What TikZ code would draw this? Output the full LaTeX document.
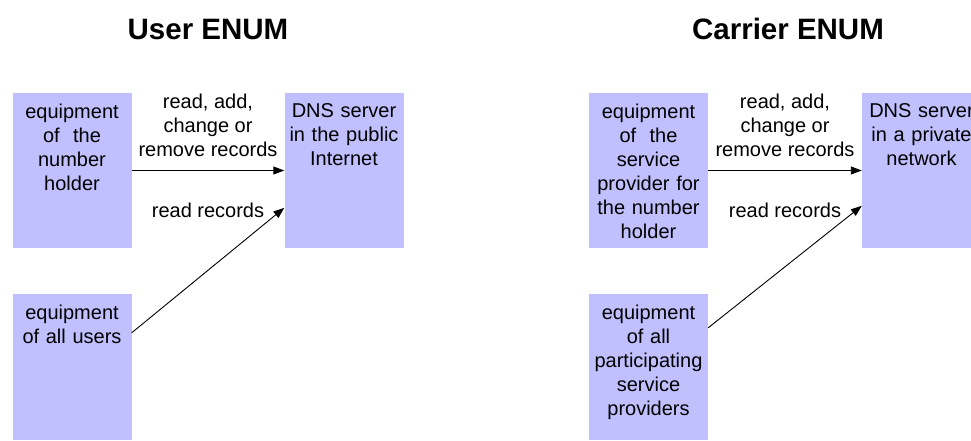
\documentclass[tikz,border=0pt]{standalone}
\usepackage{fontspec}
\setmainfont{Liberation Sans}
\usetikzlibrary{calc}
\usetikzlibrary{arrows.meta}
\usetikzlibrary{positioning}
\definecolor{lavender}{RGB}{192, 192, 255}

\tikzset{
  box/.style={fill=lavender, minimum width=119pt, inner sep=0pt},
  boxtext/.style={anchor=north, text width=119pt, align=center, inner sep=0pt,
                  font=\fontsize{20}{24}\selectfont},
  lbl/.style={align=center, inner sep=0pt, font=\fontsize{20}{24}\selectfont},
  heading/.style={inner sep=0pt, font=\fontsize{29.5}{34}\selectfont\bfseries},
  flow/.style={-{Triangle[length=11pt, width=8pt]}, line width=0.9pt}
}

\begin{document}
\begin{tikzpicture}[x=1pt, y=-1pt]
            \clip (0,0) rectangle (971,441);
            % user ENUM
            \node[heading] (usertitle) at (208, 29) {User ENUM};
            \node[box, minimum height=155pt] (holder) at ( 72, 170.5) {};
            \node[box, minimum height=146pt] (users)  at ( 72, 367.0) {};
            \node[box, minimum height=155pt] (dnspub) at (344, 170.5) {};
            \node[boxtext] (holdertxt) at ($(holder.north)+(0,11)$) {equipment\\of\ \ the\\number\\holder};
            \node[boxtext] (userstxt)  at ($(users.north)+(0,11)$)  {equipment\\of all users};
            \node[boxtext] (dnspubtxt) at ($(dnspub.north)+(0,11)$) {DNS server\\in the public\\Internet};
            \draw[flow] (holder.east) -- (dnspub.west)
                 node[lbl, midway, anchor=south, yshift=13pt] (pubwrite) {read, add,\\change or\\remove records};
            \draw[flow] ($(users.north east)+(0,39)$) -- ($(dnspub.north west)+(0,115)$);
            \node[lbl] (pubread) at ($(holder.east)!0.5!(dnspub.west)+(0,40)$) {read records};
            % carrier ENUM
            \node[heading] (carriertitle) at (788, 29) {Carrier ENUM};
            \node[box, minimum height=155pt] (provider) at (648.5, 170.5) {};
            \node[box, minimum height=146pt] (carriers) at (648.5, 367.0) {};
            \node[box, minimum height=155pt] (dnspriv)  at (921.5, 170.5) {};
            \node[boxtext] (providertxt) at ($(provider.north)+(0,11)$) {equipment\\of\ \ the\\service\\provider for\\the number\\holder};
            \node[boxtext] (carrierstxt) at ($(carriers.north)+(0,11)$) {equipment\\of all\\participating\\service\\providers};
            \node[boxtext] (dnsprivtxt)  at ($(dnspriv.north)+(0,11)$)  {DNS server\\in a private\\network};
            \draw[flow] (provider.east) -- (dnspriv.west)
                 node[lbl, midway, anchor=south, yshift=13pt] (privwrite) {read, add,\\change or\\remove records};
            \draw[flow] ($(carriers.north east)+(0,34)$) -- ($(dnspriv.north west)+(0,113)$);
            \node[lbl] (privread) at ($(provider.east)!0.5!(dnspriv.west)+(0,40)$) {read records};
\end{tikzpicture}
\end{document}
